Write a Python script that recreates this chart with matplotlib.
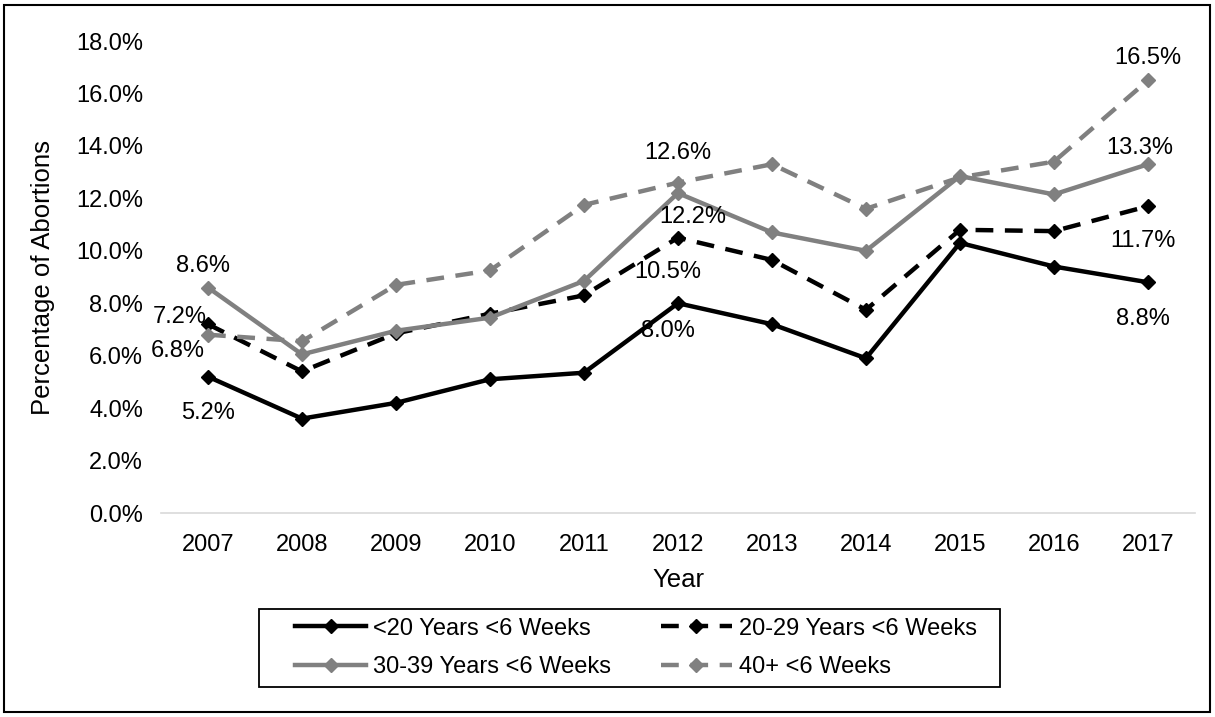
import matplotlib
matplotlib.use("Agg")
import matplotlib.pyplot as plt
from matplotlib.patches import Rectangle

plt.rcParams['font.family'] = ['Liberation Sans', 'DejaVu Sans']

years = ['2007', '2008', '2009', '2010', '2011', '2012', '2013', '2014', '2015', '2016', '2017']

under20 = [5.2, 3.6, 4.2, 5.1, 5.35, 8.0, 7.2, 5.9, 10.3, 9.4, 8.8]
age20_29 = [7.2, 5.4, 6.85, 7.6, 8.3, 10.5, 9.65, 7.75, 10.8, 10.75, 11.7]
age30_39 = [8.6, 6.05, 6.95, 7.45, 8.85, 12.2, 10.7, 10.0, 12.85, 12.15, 13.3]
age40 = [6.8, 6.55, 8.7, 9.25, 11.75, 12.6, 13.3, 11.6, 12.8, 13.4, 16.5]

series_names = ['<20 Years <6 Weeks', '20-29 Years <6 Weeks',
                '30-39 Years <6 Weeks', '40+ <6 Weeks']

# (series index, year index, dx px, dy px)
labels = [
    (2, 0, -5, 22), (1, 0, -28, 7), (3, 0, -30, -16), (0, 0, 0, -36),
    (3, 5, 0, 30), (2, 5, 15, -24), (1, 5, -10, -34), (0, 5, -10, -28),
    (3, 10, 0, 22), (2, 10, -8, 16), (1, 10, -5, -35), (0, 10, -5, -37),
]

fig = plt.figure(figsize=(12.15, 7.17), dpi=100)
ax = fig.add_axes([0.1325, 0.2845, 0.851, 0.6583])

x = list(range(len(years)))
all_series = [under20, age20_29, age30_39, age40]
styles = [('black', '-'), ('black', '--'), ('#808080', '-'), ('#808080', '--')]

lines = []
for vals, (col, ls), name in zip(all_series, styles, series_names):
    line, = ax.plot(x, vals, color=col, linestyle=ls, linewidth=3.2,
                    marker='D', markersize=7, label=name)
    if ls == '--':
        line.set_dashes((4, 2.6))
    lines.append(line)

for si, yi, dx, dy in labels:
    v = all_series[si][yi]
    ax.annotate(f'{v:.1f}%', (yi, v), xytext=(dx, dy), textcoords='offset pixels',
                ha='center', va='center', fontsize=17)

ax.set_xlim(-0.5, len(years) - 0.5)
ax.set_ylim(0, 18)
ax.set_xticks(x)
ax.set_xticklabels(years)
ax.set_yticks([i * 2 for i in range(10)])
ax.set_yticklabels([f'{i * 2:.1f}%' for i in range(10)])
ax.tick_params(axis='both', length=0, labelsize=17)
ax.tick_params(axis='x', pad=15)
ax.tick_params(axis='y', pad=13)
for s in ['top', 'right', 'left']:
    ax.spines[s].set_visible(False)
ax.spines['bottom'].set_color('#d9d9d9')
ax.spines['bottom'].set_linewidth(1.2)

ax.set_xlabel('Year', fontsize=18.5)
ax.set_ylabel('Percentage of Abortions', fontsize=18.5)
ax.xaxis.set_label_coords(0.5, -0.117)
ax.yaxis.set_label_coords(-0.1025, 0.5)

# row-wise legend order: matplotlib fills columns first
order = [0, 2, 1, 3]
leg = fig.legend([lines[i] for i in order], [series_names[i] for i in order],
                 loc='center', bbox_to_anchor=(0.5235, 0.0962), ncol=2,
                 fontsize=17, frameon=False, handlelength=3.0,
                 columnspacing=2.1, handletextpad=0.3, borderpad=0.1,
                 labelspacing=0.7, numpoints=1)

# legend box drawn separately (wider side padding than legend allows)
fig.patches.append(Rectangle((0.2132, 0.0418), 0.6099, 0.1088, transform=fig.transFigure,
                             fill=False, edgecolor='black', linewidth=1.3))

fig.patches.append(Rectangle((0.003, 0.007), 0.993, 0.986, transform=fig.transFigure,
                             fill=False, edgecolor='black', linewidth=1.5))

fig.savefig('out.png', dpi=100)
